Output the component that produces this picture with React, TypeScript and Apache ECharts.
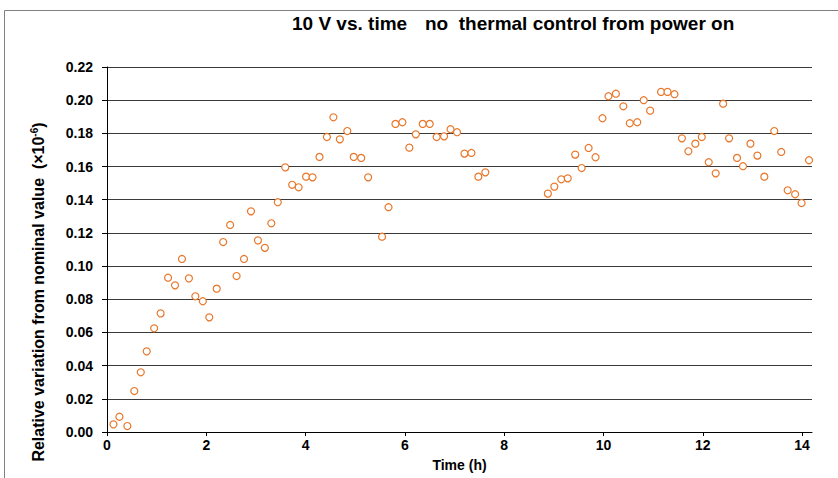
import React, { useEffect, useRef } from "react";
import * as echarts from "echarts";

const timeHours: number[] = [
  0.13, 0.25, 0.41, 0.55, 0.68, 0.8, 0.95, 1.08, 1.23, 1.37, 1.51, 1.65, 1.78, 1.93, 2.06, 2.21,
  2.34, 2.48, 2.61, 2.76, 2.9, 3.04, 3.18, 3.31, 3.44, 3.59, 3.73, 3.86, 4.01, 4.14, 4.28, 4.43,
  4.56, 4.69, 4.84, 4.97, 5.12, 5.26, 5.54, 5.67, 5.81, 5.95, 6.09, 6.22, 6.36, 6.5, 6.64, 6.79,
  6.92, 7.05, 7.2, 7.34, 7.48, 7.62,
  8.88, 9.01, 9.15, 9.28, 9.43, 9.56, 9.7, 9.84, 9.98, 10.1, 10.25, 10.4, 10.53, 10.68, 10.81,
  10.94, 11.16, 11.29, 11.43, 11.58, 11.71, 11.85, 11.98, 12.12, 12.26, 12.41, 12.53, 12.69,
  12.81, 12.96, 13.1, 13.24, 13.44, 13.58, 13.71, 13.86, 13.99, 14.14,
];

const relVariation: number[] = [
  0.0046, 0.0092, 0.0036, 0.0247, 0.036, 0.0486, 0.0625, 0.0715, 0.093, 0.0884, 0.1043, 0.0926,
  0.0818, 0.0788, 0.0691, 0.0864, 0.1145, 0.1248, 0.094, 0.1043, 0.133, 0.1155, 0.111, 0.1258,
  0.1385, 0.1595, 0.149, 0.1475, 0.1539, 0.1535, 0.1658, 0.1778, 0.1897, 0.1764, 0.1814, 0.1658,
  0.1652, 0.1535, 0.1177, 0.1355, 0.1857, 0.1867, 0.1714, 0.1794, 0.1857, 0.1857, 0.1778, 0.1782,
  0.1825, 0.1807, 0.1678, 0.1682, 0.1539, 0.1565,
  0.1437, 0.1479, 0.1523, 0.1529, 0.1672, 0.1591, 0.1712, 0.1656, 0.1891, 0.2024, 0.2039, 0.1963,
  0.1861, 0.1867, 0.2, 0.1937, 0.205, 0.205, 0.2036, 0.177, 0.1692, 0.1738, 0.1778, 0.1626,
  0.1559, 0.1979, 0.177, 0.1652, 0.1602, 0.1738, 0.1666, 0.1539, 0.1814, 0.1688, 0.1457, 0.1433,
  0.138, 0.1638,
];

const titlePart1 = "10 V vs. time";
const titlePart2 = "no  thermal control from power on";
const xAxisName = "Time (h)";
const yAxisNameMain = "Relative variation from nominal value  (×10";
const yAxisNameSup = "-6";

const FONT = "'Liberation Sans', Arial, sans-serif";

export default function App() {
  const ref = useRef<HTMLDivElement>(null);

  useEffect(() => {
    if (!ref.current) return;
    const chart = echarts.init(ref.current, null, { renderer: "svg" });
    const data = timeHours.map((t, i) => [t, relVariation[i]]);
    chart.setOption({
      animation: false,
      backgroundColor: "#fff",
      textStyle: { fontFamily: FONT },
      grid: { left: 107, right: 26, top: 67, bottom: 46, containLabel: false },
      xAxis: {
        type: "value",
        min: 0,
        max: 14.2,
        interval: 2,
        name: xAxisName,
        nameLocation: "middle",
        nameGap: 26,
        nameTextStyle: { fontFamily: FONT, fontWeight: "bold", fontSize: 14, color: "#000" },
        axisLine: { show: true, onZero: false, lineStyle: { color: "#000", width: 1 } },
        axisTick: { show: true, inside: false, length: 4, lineStyle: { color: "#000" } },
        axisLabel: {
          showMaxLabel: false,
          margin: 6,
          fontFamily: FONT,
          fontWeight: "bold",
          fontSize: 14,
          color: "#000",
          formatter: (v: number) => (Number.isInteger(v) ? String(v) : ""),
        },
        splitLine: { show: false },
      },
      yAxis: {
        type: "value",
        min: 0,
        max: 0.22,
        interval: 0.02,
        axisLine: { show: true, lineStyle: { color: "#000", width: 1 } },
        axisTick: { show: true, inside: false, length: 5, lineStyle: { color: "#000" } },
        axisLabel: {
          margin: 14,
          fontFamily: FONT,
          fontWeight: "bold",
          fontSize: 14,
          color: "#000",
          formatter: (v: number) => v.toFixed(2),
        },
        splitLine: { show: true, lineStyle: { color: "#3a3a3a", width: 1 } },
      },
      series: [
        {
          type: "scatter",
          data,
          symbol: "circle",
          symbolSize: 7,
          itemStyle: { color: "#ffffff", borderColor: "#E8772A", borderWidth: 1.2, opacity: 1 },
          z: 5,
        },
      ],
      graphic: [
        {
          type: "rect",
          shape: { x: 4.5, y: 10.5, width: 1000, height: 1000 },
          style: { fill: "none", stroke: "#808080", lineWidth: 1 },
          silent: true,
        },
        {
          type: "text",
          x: 292,
          y: 23,
          style: {
            text: titlePart1,
            fontFamily: FONT,
            fontWeight: "bold",
            fontSize: 19,
            fill: "#000",
            align: "left",
            verticalAlign: "middle",
          },
        },
        {
          type: "text",
          x: 425,
          y: 23,
          style: {
            text: titlePart2,
            fontFamily: FONT,
            fontWeight: "bold",
            fontSize: 19,
            fill: "#000",
            align: "left",
            verticalAlign: "middle",
          },
        },
        {
          type: "text",
          x: 38,
          y: 292,
          rotation: Math.PI / 2,
          style: {
            text: `{a|${yAxisNameMain}}{s|${yAxisNameSup}}{a|)}`,
            align: "center",
            verticalAlign: "middle",
            rich: {
              a: { fontFamily: FONT, fontWeight: "bold", fontSize: 16, fill: "#000", color: "#000" },
              s: {
                fontFamily: FONT,
                fontWeight: "bold",
                fontSize: 10,
                fill: "#000",
                color: "#000",
                verticalAlign: "top",
                padding: [0, 0, 7, 0],
              },
            },
          },
        },
      ],
    });
    return () => chart.dispose();
  }, []);

  return (
    <div
      ref={ref}
      style={{ position: "absolute", left: 0, top: 0, width: 838, height: 478 }}
    />
  );
}
